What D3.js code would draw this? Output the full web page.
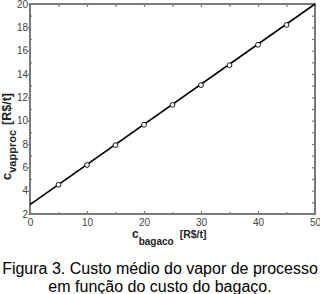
<!DOCTYPE html>
<html>
<head>
<meta charset="utf-8">
<script src="https://cdn.jsdelivr.net/npm/d3@7"></script>
<style>
  body { margin: 0; background: #fff; }
  svg { display: block; font-family: Arial, "Liberation Sans", sans-serif; }
</style>
</head>
<body>
<div class="chart"></div>
<script>
// custo do bagaço [R$/t] vs custo médio do vapor de processo [R$/t]
var lineX = [0, 50],
    lineY = [2.8, 20],
    pointX = [5, 10, 15, 20, 25, 30, 35, 40, 45],
    pointY = [4.5, 6.2, 7.9, 9.65, 11.35, 13.05, 14.75, 16.5, 18.2],
    xTicks = [0, 10, 20, 30, 40, 50],
    yTicks = [2, 4, 6, 8, 10, 12, 14, 16, 18, 20];

var width = 320, height = 294,
    plotLeft = 30, plotRight = 315, plotTop = 4, plotBottom = 214;

var svg = d3.select(".chart").append("svg")
    .attr("width", width)
    .attr("height", height);

var x = d3.scaleLinear().domain([0, 50]).range([plotLeft, plotRight]),
    y = d3.scaleLinear().domain([2, 20]).range([plotBottom, plotTop]);

var axisColor = "#7a7a7a";

// minor ticks
var xMinor = d3.range(5, 50, 10),
    yMinor = d3.range(3, 20, 2);

function styleAxis(g) {
    g.select(".domain").remove();
    g.selectAll(".tick line").attr("stroke", axisColor).attr("stroke-width", 1.2);
    g.selectAll(".tick text").attr("fill", "#444").style("font-size", "10px");
}

svg.append("g")
    .attr("transform", "translate(0," + plotBottom + ")")
    .call(d3.axisBottom(x).tickValues(xTicks).tickSize(-3).tickPadding(5))
    .call(styleAxis);
svg.append("g")
    .attr("transform", "translate(0," + plotBottom + ")")
    .call(d3.axisBottom(x).tickValues(xMinor).tickSize(-2).tickFormat(""))
    .call(styleAxis);
svg.append("g")
    .attr("transform", "translate(0," + plotTop + ")")
    .call(d3.axisTop(x).tickValues(xTicks.concat(xMinor)).tickSize(-3).tickFormat(""))
    .call(styleAxis);

svg.append("g")
    .attr("transform", "translate(" + plotLeft + ",0)")
    .call(d3.axisLeft(y).tickValues(yTicks).tickSize(2).tickPadding(0))
    .call(styleAxis);
svg.append("g")
    .attr("transform", "translate(" + plotLeft + ",0)")
    .call(d3.axisLeft(y).tickValues(yMinor).tickSize(-2).tickFormat(""))
    .call(styleAxis);
svg.append("g")
    .attr("transform", "translate(" + plotRight + ",0)")
    .call(d3.axisRight(y).tickValues(yTicks.concat(yMinor)).tickSize(-3).tickFormat(""))
    .call(styleAxis);

// frame
svg.append("rect")
    .attr("x", plotLeft).attr("y", plotTop)
    .attr("width", plotRight - plotLeft).attr("height", plotBottom - plotTop)
    .attr("fill", "none")
    .attr("stroke", axisColor)
    .attr("stroke-width", 2);

var line = d3.line()
    .x(function(d) { return x(d[0]); })
    .y(function(d) { return y(d[1]); });

svg.append("path")
    .datum(d3.zip(lineX, lineY))
    .attr("d", line)
    .attr("fill", "none")
    .attr("stroke", "#000")
    .attr("stroke-width", 1.6);

svg.selectAll(".pt")
    .data(d3.zip(pointX, pointY))
    .enter().append("circle")
    .attr("class", "pt")
    .attr("cx", function(d) { return x(d[0]); })
    .attr("cy", function(d) { return y(d[1]); })
    .attr("r", 2.4)
    .attr("fill", "#fff")
    .attr("stroke", "#000")
    .attr("stroke-width", 0.9);

// axis titles
var xt = svg.append("text")
    .attr("x", 132).attr("y", 238)
    .style("font-size", "12px").style("font-weight", "bold")
    .attr("fill", "#222");
xt.append("tspan").text("c");
xt.append("tspan").attr("dy", 7).style("font-size", "10px").text("bagaco");
xt.append("tspan").attr("dy", -7).attr("dx", 6).style("font-size", "10.5px").text("[R$/t]");

var yt = svg.append("text")
    .attr("transform", "translate(11,180) rotate(-90)")
    .style("font-size", "13px").style("font-weight", "bold")
    .attr("fill", "#222");
yt.append("tspan").text("c");
yt.append("tspan").attr("dy", 5).style("font-size", "11px").text("vapproc");
yt.append("tspan").attr("dy", -5).attr("dx", 5).style("font-size", "12.5px").text("[R$/t]");

// caption
var caption = ["Figura 3. Custo médio do vapor de processo", "em função do custo do bagaço."];
svg.selectAll(".cap")
    .data(caption)
    .enter().append("text")
    .attr("class", "cap")
    .attr("x", width / 2)
    .attr("y", function(d, i) { return 274 + i * 18; })
    .attr("text-anchor", "middle")
    .style("font-size", "16px")
    .attr("fill", "#000")
    .text(function(d) { return d; });
</script>
</body>
</html>
